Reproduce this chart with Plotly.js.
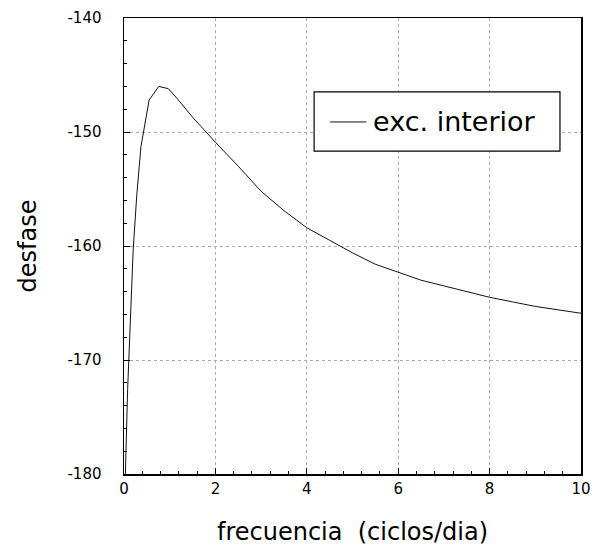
<!DOCTYPE html>
<html>
<head>
<meta charset="utf-8">
<script src="https://cdn.plot.ly/plotly-3.0.1.min.js"></script>
<style>html,body{margin:0;padding:0;background:#fff;}#chart{width:602px;height:552px;}</style>
</head>
<body>
<div id="chart"></div>
<script>
const frecuencia = [0.03, 0.08, 0.14, 0.2, 0.28, 0.37, 0.55, 0.76, 0.97, 1.15, 1.5, 2, 2.5, 3, 3.5, 4, 4.5, 5, 5.5, 6, 6.5, 7, 7.5, 8, 8.5, 9, 9.5, 10];
const desfase = [-180, -172.5, -166.5, -160.4, -155.5, -151.3, -147.2, -146.0, -146.2, -147.0, -148.7, -150.9, -153.0, -155.2, -156.9, -158.4, -159.5, -160.6, -161.6, -162.3, -163.0, -163.5, -164.0, -164.5, -164.9, -165.3, -165.6, -165.9];
const serieNombre = "exc. interior";
const xTicks = [0, 2, 4, 6, 8, 10];
const yTicks = [-180, -170, -160, -150, -140];

const font = "DejaVu Sans, Verdana, sans-serif";

Plotly.newPlot('chart', [{
  x: frecuencia, y: desfase, type: 'scatter', mode: 'lines',
  name: serieNombre, line: {color: '#111', width: 1}, showlegend: false
}], {
  width: 602, height: 552,
  margin: {l: 124, r: 21, t: 18, b: 78},
  paper_bgcolor: '#fff', plot_bgcolor: '#fff',
  font: {family: font, color: '#000', size: 15},
  showlegend: false,
  shapes: [
    {type: 'rect', xref: 'paper', yref: 'paper', x0: 0.416, x1: 0.954, y0: 0.708, y1: 0.838,
     line: {color: '#000', width: 1.2}, fillcolor: '#fff', layer: 'above'},
    {type: 'line', xref: 'paper', yref: 'paper', x0: 0.451, x1: 0.530, y0: 0.772, y1: 0.772,
     line: {color: '#111', width: 1}, layer: 'above'}
  ],
  annotations: [
    {text: serieNombre, xref: 'paper', yref: 'paper', x: 0.541, y: 0.772,
     xanchor: 'left', yanchor: 'middle', showarrow: false,
     font: {family: font, size: 27, color: '#000'}}
  ],
  xaxis: {
    range: [0, 10], tickvals: xTicks, ticktext: xTicks.map(String),
    showline: true, linecolor: '#000', linewidth: 1.5, mirror: true,
    ticks: 'inside', ticklen: 6, tickcolor: '#000',
    showgrid: true, gridcolor: '#aaa', griddash: 'dot', gridwidth: 1,
    zeroline: false,
    minor: {dtick: 0.4, ticks: 'inside', ticklen: 3, tickcolor: '#000', showgrid: false},
    tickfont: {size: 15},
    title: {text: 'frecuencia  (ciclos/dia)', font: {size: 24}, standoff: 26}
  },
  yaxis: {
    range: [-180, -140], tickvals: yTicks, ticktext: yTicks.map(String),
    showline: true, linecolor: '#000', linewidth: 1.5, mirror: true,
    ticks: 'inside', ticklen: 6, tickcolor: '#000',
    showgrid: true, gridcolor: '#aaa', griddash: 'dot', gridwidth: 1,
    zeroline: false,
    minor: {dtick: 2, ticks: 'inside', ticklen: 3, tickcolor: '#000', showgrid: false},
    tickfont: {size: 15}, ticklabelstandoff: 18,
    title: {text: 'desfase', font: {size: 24}, standoff: 24}
  }
}, {displayModeBar: false, staticPlot: true});
</script>
</body>
</html>
